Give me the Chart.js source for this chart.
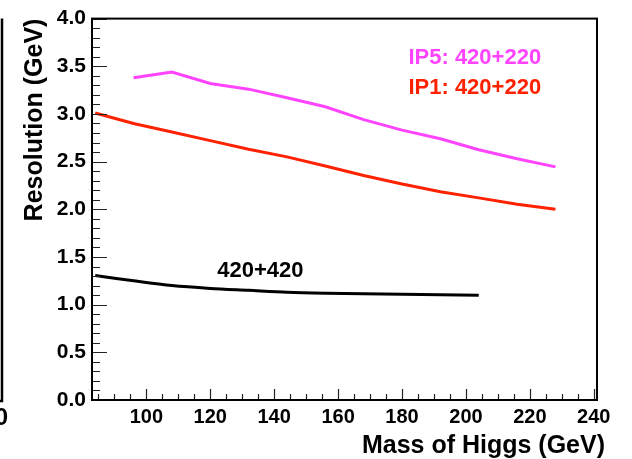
<!DOCTYPE html>
<html><head><meta charset="utf-8">
<script src="https://cdn.jsdelivr.net/npm/chart.js@4.4.1/dist/chart.umd.min.js"></script>
<style>html,body{margin:0;padding:0;background:#fff;overflow:hidden}canvas{display:block}</style>
</head><body><canvas id="c" width="632" height="459"></canvas>
<script>
// ---- data ----
const massIP5 = [96, 108, 120, 132, 144, 156, 168, 180, 192, 204, 216, 228];
const resIP5  = [3.38, 3.44, 3.32, 3.26, 3.17, 3.075, 2.94, 2.83, 2.74, 2.625, 2.53, 2.445];
const massIP1 = [84, 96, 108, 120, 132, 144, 156, 168, 180, 192, 204, 216, 228];
const resIP1  = [3.01, 2.90, 2.81, 2.72, 2.63, 2.55, 2.455, 2.355, 2.265, 2.185, 2.12, 2.054, 2.00];
const mass420 = [84, 96, 108, 120, 132, 144, 156, 168, 180, 192, 204];
const res420  = [1.306, 1.25, 1.20, 1.17, 1.15, 1.13, 1.12, 1.115, 1.11, 1.105, 1.098];
const seriesNames = ['IP5: 420+220', 'IP1: 420+220', '420+420'];
const xMin = 83, xMax = 241, yMin = 0, yMax = 4;
const xTitle = 'Mass of Higgs (GeV)';
const yTitle = 'Resolution (GeV)';
// label anchors in data units (left, baseline)
const labelAnchorX = [182, 182, 122.2];
const labelAnchorY = [3.52, 3.21, 1.29];

const colors = ['#ff44ff', '#ff2200', '#000000'];
const FONT = '"Liberation Sans", Arial, Helvetica, sans-serif';

function pts(xs, ys) { return xs.map((x, i) => ({x: x, y: ys[i]})); }

const framePlugin = {
  id: 'frame',
  afterDraw(chart) {
    const {ctx, chartArea: a, scales: {x, y}} = chart;
    ctx.save();
    // minor/major ticks inside the frame
    ctx.strokeStyle = '#222';
    ctx.lineWidth = 1.2;
    ctx.beginPath();
    for (let i = 0; i <= 40; i++) {
      const v = i / 10;
      const py = Math.round(y.getPixelForValue(v)) + 0.5;
      const len = (i % 5 === 0) ? 15 : 8;
      ctx.moveTo(a.left, py); ctx.lineTo(a.left + len, py);
    }
    for (let g = 85; g <= 240; g += 5) {
      const px = Math.round(x.getPixelForValue(g)) + 0.5;
      const len = (g % 20 === 0) ? 11 : 6;
      ctx.moveTo(px, a.bottom); ctx.lineTo(px, a.bottom - len);
    }
    ctx.stroke();
    // frame
    ctx.strokeStyle = '#000';
    ctx.lineWidth = 2;
    ctx.strokeRect(a.left, a.top, a.right - a.left, a.bottom - a.top);
    // series labels
    ctx.font = 'bold 22px ' + FONT;
    ctx.textBaseline = 'alphabetic';
    ctx.textAlign = 'left';
    seriesNames.forEach((t, i) => {
      ctx.fillStyle = colors[i];
      ctx.fillText(t, x.getPixelForValue(labelAnchorX[i]), y.getPixelForValue(labelAnchorY[i]));
    });
    // x axis title, right-aligned slightly past the frame as in the reference
    ctx.fillStyle = '#000';
    ctx.font = 'bold 25px ' + FONT;
    ctx.textAlign = 'right';
    ctx.fillText(xTitle, a.right + 8, a.bottom + 53);
    // remnant of neighbouring panel at the left edge
    ctx.strokeStyle = '#000';
    ctx.lineWidth = 2.5;
    ctx.beginPath();
    ctx.moveTo(2, a.top); ctx.lineTo(2, a.bottom + 1); ctx.lineTo(-5, a.bottom + 1);
    ctx.stroke();
    ctx.font = 'bold 24px ' + FONT;
    ctx.fillText('0', 8, 425);
    ctx.restore();
  }
};

new Chart(document.getElementById('c'), {
  type: 'line',
  data: {
    datasets: [
      {label: seriesNames[0], data: pts(massIP5, resIP5), borderColor: colors[0], borderWidth: 3, pointRadius: 0, tension: 0, fill: false},
      {label: seriesNames[1], data: pts(massIP1, resIP1), borderColor: colors[1], borderWidth: 3, pointRadius: 0, tension: 0, fill: false},
      {label: seriesNames[2], data: pts(mass420, res420), borderColor: colors[2], borderWidth: 3, pointRadius: 0, tension: 0.3, fill: false}
    ]
  },
  options: {
    responsive: false,
    animation: false,
    devicePixelRatio: 1,
    layout: {padding: {left: 0, right: 35, top: 15, bottom: 0}},
    plugins: {legend: {display: false}, tooltip: {enabled: false}},
    scales: {
      x: {
        type: 'linear', min: xMin, max: xMax,
        afterFit(s) { s.height = 59; },
        grid: {display: false, drawTicks: false},
        border: {display: false},
        ticks: {stepSize: 20, includeBounds: false, padding: 5, color: '#000', font: {family: FONT, size: 20, weight: 'bold'}, maxRotation: 0, autoSkip: false},
        title: {display: false}
      },
      y: {
        type: 'linear', min: yMin, max: yMax,
        afterFit(s) { s.width = 92; },
        grid: {display: false, drawTicks: false},
        border: {display: false},
        ticks: {stepSize: 0.5, padding: 6, color: '#000', font: {family: FONT, size: 21, weight: 'bold'}, callback: v => Number(v).toFixed(1)},
        title: {display: true, text: yTitle, align: 'end', color: '#000', padding: {top: 20, bottom: 0}, font: {family: FONT, size: 25, weight: 'bold'}}
      }
    }
  },
  plugins: [framePlugin]
});
</script>
</body></html>
